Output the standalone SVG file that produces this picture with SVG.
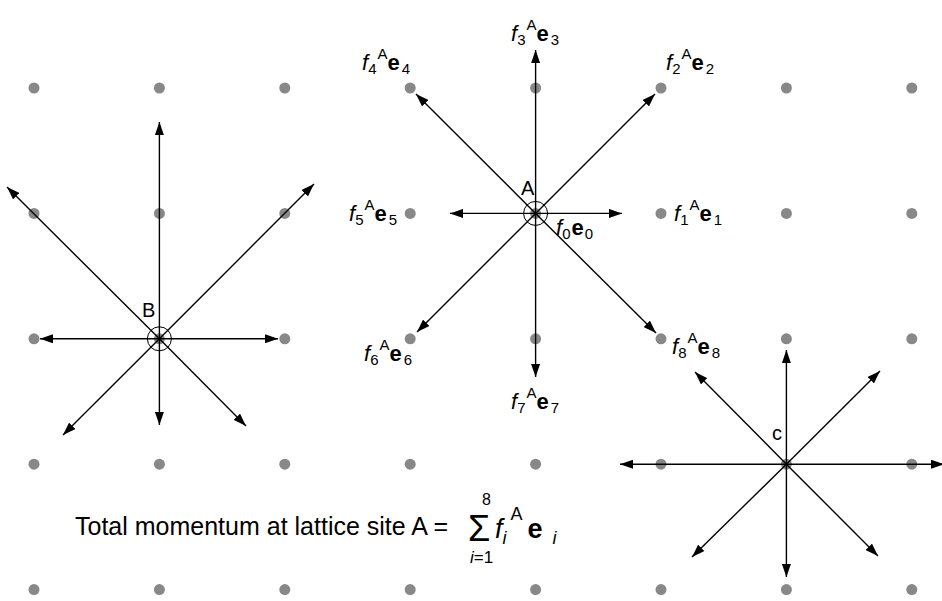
<svg xmlns="http://www.w3.org/2000/svg" width="942" height="601" viewBox="0 0 942 601">
<defs>
<marker id="ah" markerUnits="userSpaceOnUse" markerWidth="13" markerHeight="9" refX="13" refY="4.5" orient="auto">
<path d="M0,0 L13,4.5 L0,9 z" fill="#000"/>
</marker>
<style>
.dot{fill:#888}
.ar{stroke:#000;stroke-width:1.4;fill:none;marker-end:url(#ah)}
.ring{fill:none;stroke:#000;stroke-width:1}
text{font-family:"Liberation Sans",Arial,sans-serif;fill:#000}
.lb{font-size:20px}
.fl{font-size:22px}
.fi{font-style:italic}
.bo{font-weight:bold}
.sm{font-size:15px}
</style>
</defs>
<rect width="942" height="601" fill="#fff"/>
<g id="lattice">
<g id="row1"><circle class="dot" cx="34" cy="88" r="5.5"/><circle class="dot" cx="159.4" cy="88" r="5.5"/><circle class="dot" cx="284.8" cy="88" r="5.5"/><circle class="dot" cx="410.2" cy="88" r="5.5"/><circle class="dot" cx="535.6" cy="88" r="5.5"/><circle class="dot" cx="661" cy="88" r="5.5"/><circle class="dot" cx="786.4" cy="88" r="5.5"/><circle class="dot" cx="911.8" cy="88" r="5.5"/></g>
<g id="row2"><circle class="dot" cx="34" cy="213.4" r="5.5"/><circle class="dot" cx="159.4" cy="213.4" r="5.5"/><circle class="dot" cx="284.8" cy="213.4" r="5.5"/><circle class="dot" cx="410.2" cy="213.4" r="5.5"/><circle class="dot" cx="535.6" cy="213.4" r="5.5"/><circle class="dot" cx="661" cy="213.4" r="5.5"/><circle class="dot" cx="786.4" cy="213.4" r="5.5"/><circle class="dot" cx="911.8" cy="213.4" r="5.5"/></g>
<g id="row3"><circle class="dot" cx="34" cy="338.8" r="5.5"/><circle class="dot" cx="159.4" cy="338.8" r="5.5"/><circle class="dot" cx="284.8" cy="338.8" r="5.5"/><circle class="dot" cx="410.2" cy="338.8" r="5.5"/><circle class="dot" cx="535.6" cy="338.8" r="5.5"/><circle class="dot" cx="661" cy="338.8" r="5.5"/><circle class="dot" cx="786.4" cy="338.8" r="5.5"/><circle class="dot" cx="911.8" cy="338.8" r="5.5"/></g>
<g id="row4"><circle class="dot" cx="34" cy="464.2" r="5.5"/><circle class="dot" cx="159.4" cy="464.2" r="5.5"/><circle class="dot" cx="284.8" cy="464.2" r="5.5"/><circle class="dot" cx="410.2" cy="464.2" r="5.5"/><circle class="dot" cx="535.6" cy="464.2" r="5.5"/><circle class="dot" cx="661" cy="464.2" r="5.5"/><circle class="dot" cx="786.4" cy="464.2" r="5.5"/><circle class="dot" cx="911.8" cy="464.2" r="5.5"/></g>
<g id="row5"><circle class="dot" cx="34" cy="589.6" r="5.5"/><circle class="dot" cx="159.4" cy="589.6" r="5.5"/><circle class="dot" cx="284.8" cy="589.6" r="5.5"/><circle class="dot" cx="410.2" cy="589.6" r="5.5"/><circle class="dot" cx="535.6" cy="589.6" r="5.5"/><circle class="dot" cx="661" cy="589.6" r="5.5"/><circle class="dot" cx="786.4" cy="589.6" r="5.5"/><circle class="dot" cx="911.8" cy="589.6" r="5.5"/></g>
</g>
<g id="connectors">
<g id="arrows-A">
<line class="ar" x1="535.6" y1="213.4" x2="535.6" y2="50"/>
<line class="ar" x1="535.6" y1="213.4" x2="535.6" y2="377"/>
<line class="ar" x1="535.6" y1="213.4" x2="450" y2="213.4"/>
<line class="ar" x1="535.6" y1="213.4" x2="622" y2="213.4"/>
<line class="ar" x1="535.6" y1="213.4" x2="416" y2="94"/>
<line class="ar" x1="535.6" y1="213.4" x2="655" y2="94"/>
<line class="ar" x1="535.6" y1="213.4" x2="417" y2="332"/>
<line class="ar" x1="535.6" y1="213.4" x2="656" y2="333"/>
</g>
<g id="arrows-B">
<line class="ar" x1="159.4" y1="338.8" x2="159.4" y2="122"/>
<line class="ar" x1="159.4" y1="338.8" x2="159.4" y2="425"/>
<line class="ar" x1="159.4" y1="338.8" x2="40" y2="338.8"/>
<line class="ar" x1="159.4" y1="338.8" x2="278" y2="338.8"/>
<line class="ar" x1="159.4" y1="338.8" x2="7" y2="187"/>
<line class="ar" x1="159.4" y1="338.8" x2="314" y2="184"/>
<line class="ar" x1="159.4" y1="338.8" x2="63" y2="435"/>
<line class="ar" x1="159.4" y1="338.8" x2="246" y2="426"/>
</g>
<g id="arrows-C">
<line class="ar" x1="786.4" y1="464.2" x2="786.4" y2="350"/>
<line class="ar" x1="786.4" y1="464.2" x2="786.4" y2="577"/>
<line class="ar" x1="786.4" y1="464.2" x2="620" y2="464.2"/>
<line class="ar" x1="786.4" y1="464.2" x2="944" y2="464.2"/>
<line class="ar" x1="786.4" y1="464.2" x2="695" y2="372"/>
<line class="ar" x1="786.4" y1="464.2" x2="880" y2="371"/>
<line class="ar" x1="786.4" y1="464.2" x2="692" y2="557"/>
<line class="ar" x1="786.4" y1="464.2" x2="878" y2="556"/>
</g>
</g>
<g id="node-A">
<circle class="ring" cx="535.6" cy="213.4" r="12"/>
<text class="lb" x="521" y="195">A</text>
</g>
<g id="node-B">
<circle class="ring" cx="159.4" cy="338.8" r="12"/>
<text class="lb" x="142" y="317">B</text>
</g>
<g id="node-C">
<text class="lb" x="772" y="440">c</text>
</g>
<g id="labels" class="fl">
<text x="511" y="41"><tspan class="fi">f</tspan><tspan class="sm" dy="4">3</tspan><tspan class="sm" dx="1" dy="-15">A</tspan><tspan class="bo" dy="11">e</tspan><tspan class="sm" dx="2" dy="4">3</tspan></text>
<text x="362" y="70"><tspan class="fi">f</tspan><tspan class="sm" dy="4">4</tspan><tspan class="sm" dx="1" dy="-15">A</tspan><tspan class="bo" dy="11">e</tspan><tspan class="sm" dx="2" dy="4">4</tspan></text>
<text x="666" y="70"><tspan class="fi">f</tspan><tspan class="sm" dy="4">2</tspan><tspan class="sm" dx="1" dy="-15">A</tspan><tspan class="bo" dy="11">e</tspan><tspan class="sm" dx="2" dy="4">2</tspan></text>
<text x="349" y="221"><tspan class="fi">f</tspan><tspan class="sm" dy="4">5</tspan><tspan class="sm" dx="1" dy="-15">A</tspan><tspan class="bo" dy="11">e</tspan><tspan class="sm" dx="2" dy="4">5</tspan></text>
<text x="674" y="221"><tspan class="fi">f</tspan><tspan class="sm" dy="4">1</tspan><tspan class="sm" dx="1" dy="-15">A</tspan><tspan class="bo" dy="11">e</tspan><tspan class="sm" dx="2" dy="4">1</tspan></text>
<text x="556" y="235"><tspan class="fi">f</tspan><tspan class="sm" dy="4">0</tspan><tspan class="bo" dx="1" dy="-4">e</tspan><tspan class="sm" dx="1" dy="4">0</tspan></text>
<text x="364" y="361"><tspan class="fi">f</tspan><tspan class="sm" dy="4">6</tspan><tspan class="sm" dx="1" dy="-15">A</tspan><tspan class="bo" dy="11">e</tspan><tspan class="sm" dx="2" dy="4">6</tspan></text>
<text x="511" y="409"><tspan class="fi">f</tspan><tspan class="sm" dy="4">7</tspan><tspan class="sm" dx="1" dy="-15">A</tspan><tspan class="bo" dy="11">e</tspan><tspan class="sm" dx="2" dy="4">7</tspan></text>
<text x="672" y="354"><tspan class="fi">f</tspan><tspan class="sm" dy="4">8</tspan><tspan class="sm" dx="1" dy="-15">A</tspan><tspan class="bo" dy="11">e</tspan><tspan class="sm" dx="2" dy="4">8</tspan></text>
</g>
<g id="formula">
<text x="75" y="535" font-size="25">Total momentum at lattice site A =</text>
<text x="468" y="541" font-size="36">Σ</text>
<text x="482" y="505" font-size="16">8</text>
<text x="470" y="563" font-size="17"><tspan font-style="italic">i</tspan>=1</text>
<text x="495" y="538" font-size="27"><tspan font-style="italic">f</tspan><tspan font-size="18" font-style="italic" dy="6">i</tspan><tspan font-size="18" dx="4" dy="-24">A</tspan><tspan font-weight="bold" dx="5" dy="18">e</tspan><tspan font-size="18" font-style="italic" dx="10" dy="6">i</tspan></text>
</g>
</svg>
